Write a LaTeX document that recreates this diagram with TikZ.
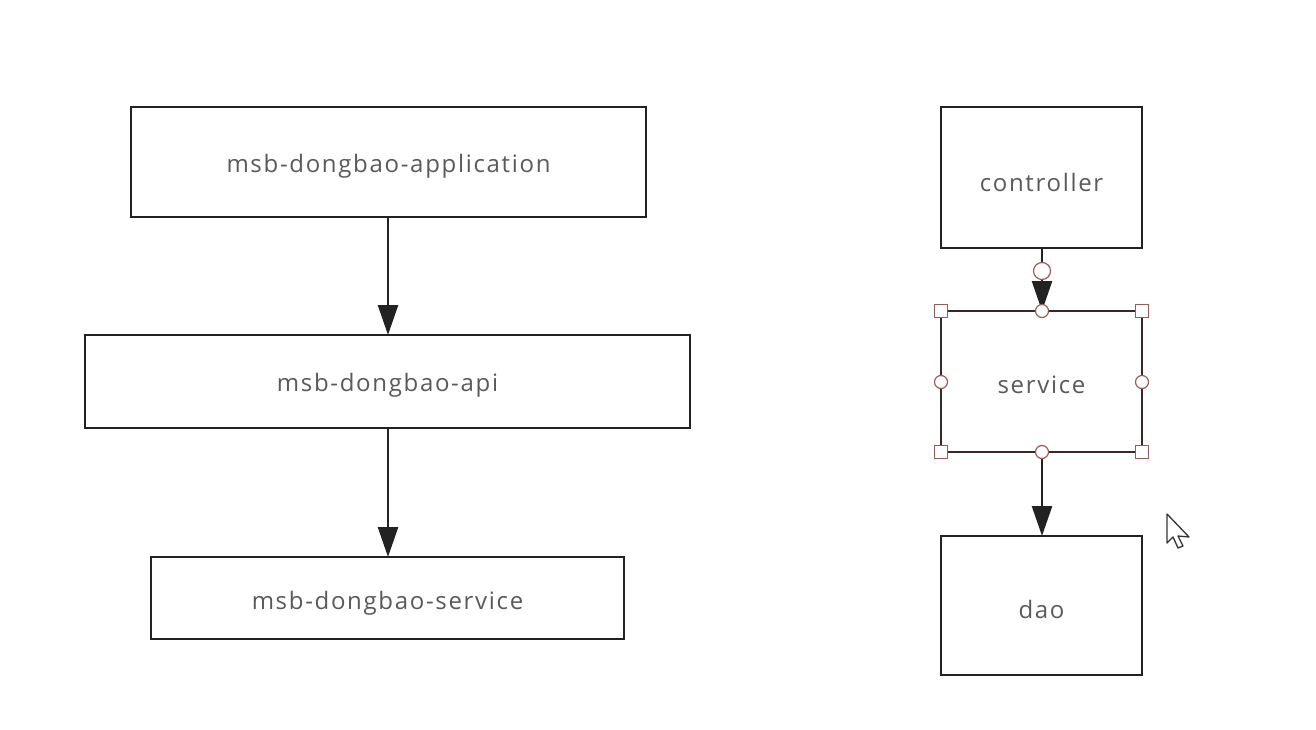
\documentclass[tikz,border=0pt]{standalone}
\usepackage{fontspec}
\setmainfont[LetterSpace=7]{Open Sans}
\usetikzlibrary{arrows.meta}
\definecolor{boxline}{HTML}{222222}
\definecolor{txt}{HTML}{5A5A5A}
\definecolor{selline}{HTML}{3A2828}
\definecolor{handle}{HTML}{9A5A5A}
\tikzset{
  box/.style={draw=boxline, line width=2.2pt, fill=white},
  lbl/.style={text=txt, font=\fontsize{24}{28}\selectfont},
  conn/.style={draw=boxline, line width=2.6pt, -{Triangle[length=30pt,width=20pt]}},
  sqh/.style={draw=handle, line width=1.2pt, fill=white, minimum size=13pt, inner sep=0pt, rectangle},
  cih/.style={draw=handle, line width=1.2pt, fill=white, minimum size=13pt, inner sep=0pt, circle},
}
\begin{document}
\begin{tikzpicture}[x=1pt,y=-1pt]
\useasboundingbox (0,0) rectangle (1316,730);
% left column
\draw[box] (131,107) rectangle (646,217);
\node[lbl] (tapp) at (388.5,166) {msb-dongbao-application};
\coordinate (appB) at (388,217);
\draw[box] (85,335) rectangle (690,428);
\node[lbl] (tapi) at (387.5,385) {msb-dongbao-api};
\coordinate (apiT) at (388,335);
\coordinate (apiB) at (388,428);
\draw[box] (151,557) rectangle (624,639);
\node[lbl] (tsvc) at (387.5,603) {msb-dongbao-service};
\coordinate (svcT) at (388,557);
\draw[conn] (appB) -- (apiT);
\draw[conn] (apiB) -- (svcT);
% right column
\draw[box] (941,107) rectangle (1142,248);
\node[lbl] (tctl) at (1041.5,182) {controller};
\coordinate (ctlB) at (1042,248);
\draw[box] (941,536) rectangle (1142,675);
\node[lbl] (tdao) at (1041.5,609) {dao};
\coordinate (daoT) at (1042,536);
\draw[box, draw=selline] (941,311) rectangle (1142,452);
\node[lbl] (tsrv) at (1041.5,385) {service};
\coordinate (srvT) at (1042,311);
\coordinate (srvB) at (1042,452);
\draw[conn] (ctlB) -- (srvT);
\draw[draw=boxline, line width=2.6pt] (1042,248) -- (1042,262);
\draw[conn] (srvB) -- (daoT);
% handles
\node[cih, minimum size=17pt] (hc) at (1042,271) {};
\node[sqh] (h1) at (941,311) {};
\node[sqh] (h2) at (1142,311) {};
\node[sqh] (h3) at (941,452) {};
\node[sqh] (h4) at (1142,452) {};
\node[cih] (h5) at (1042,311) {};
\node[cih] (h6) at (1042,452) {};
\node[cih] (h7) at (941,382) {};
\node[cih] (h8) at (1142,382) {};
% cursor
\draw[line width=1.3pt, draw=black!80, fill=white, line join=round]
  (1167,514) -- (1167,543) -- (1173,537) -- (1178,548) -- (1183,546) -- (1178,536) -- (1189,537) -- cycle;
\end{tikzpicture}
\end{document}
